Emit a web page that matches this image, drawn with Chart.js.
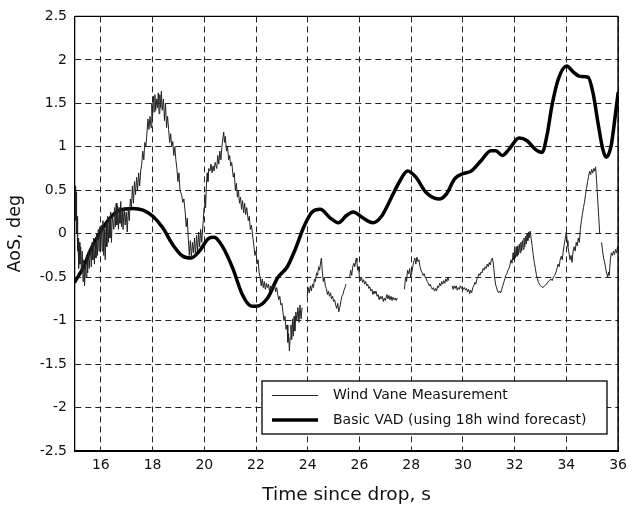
<!DOCTYPE html>
<html>
<head>
<meta charset="utf-8">
<script src="https://cdn.jsdelivr.net/npm/chart.js@4/dist/chart.umd.min.js"></script>
<style>
  html, body { margin: 0; padding: 0; background: #fff; }
  #wrap { width: 633px; height: 507px; }
</style>
</head>
<body>
<div id="wrap"><canvas id="c" width="633" height="507"></canvas></div>
<script>
// Axis ticks
const xTickValues = [16, 18, 20, 22, 24, 26, 28, 30, 32, 34, 36];
const yTickValues = [-2.5, -2, -1.5, -1, -0.5, 0, 0.5, 1, 1.5, 2, 2.5];

// Series labels
const seriesNames = ['Wind Vane Measurement', 'Basic VAD (using 18h wind forecast)'];

// Wind vane record [time s, AoS deg], split where the record drops out
const vaneSeg1 = [
  [15.00,0.15],[15.02,0.55],[15.04,0.48],[15.06,0.0],[15.08,0.2],[15.10,-0.2],[15.12,-0.05],[15.14,-0.4],
  [15.16,-0.1],[15.19,-0.35],[15.22,-0.15],[15.25,-0.45],[15.28,-0.2],[15.31,-0.55],[15.34,-0.3],[15.37,-0.6],
  [15.40,-0.35],[15.43,-0.5],[15.46,-0.25],[15.49,-0.45],[15.52,-0.2],[15.55,-0.4],[15.60,-0.15],[15.63,-0.38],
  [15.66,-0.1],[15.69,-0.3],[15.72,-0.05],[15.75,-0.35],[15.78,-0.1],[15.81,-0.28],[15.84,0.0],[15.87,-0.25],
  [15.90,0.05],[15.93,-0.2],[15.96,0.08],[15.99,-0.15],[16.02,0.1],[16.05,-0.2],[16.08,0.15],[16.11,-0.25],
  [16.14,0.05],[16.17,-0.3],[16.20,0.12],[16.23,-0.15],[16.26,0.2],[16.29,-0.1],[16.32,0.18],[16.35,-0.05],
  [16.38,0.25],[16.41,-0.1],[16.44,0.2],[16.50,0.05],[16.53,0.3],[16.56,0.08],[16.59,0.35],[16.62,0.1],
  [16.65,0.32],[16.68,0.05],[16.71,0.3],[16.74,0.12],[16.77,0.37],[16.80,0.08],[16.83,0.28],[16.86,0.05],
  [16.90,0.3],[16.94,0.1],[16.98,0.25],[17.02,0.02],[17.06,0.28],[17.10,0.15],[17.14,0.4],[17.18,0.3],
  [17.22,0.55],[17.26,0.35],[17.30,0.6],[17.34,0.45],[17.38,0.65],[17.42,0.5],[17.46,0.7],[17.50,0.55],
  [17.54,0.72],[17.58,0.8],[17.62,0.95],[17.66,0.85],[17.70,1.05],[17.74,1.0],[17.78,1.15],[17.82,1.32],
  [17.86,1.2],[17.90,1.35],[17.94,1.22],[17.97,1.5],[18.00,1.35],[18.03,1.58],[18.06,1.4],[18.09,1.6],
  [18.12,1.42],[18.16,1.55],[18.19,1.45],[18.22,1.62],[18.25,1.38],[18.28,1.6],[18.31,1.45],[18.34,1.64],
  [18.37,1.42],[18.42,1.55],[18.46,1.3],[18.50,1.5],[18.54,1.22],[18.58,1.35],[18.62,1.2],[18.66,1.05],
  [18.70,1.15],[18.74,1.0],[18.78,1.06],[18.82,0.9],[18.86,1.0],[18.90,0.85],[18.94,0.75],[18.98,0.6],
  [19.02,0.7],[19.06,0.5],[19.12,0.45],[19.17,0.36],[19.21,0.4],[19.26,0.25],[19.30,0.08],[19.34,0.18],
  [19.38,-0.05],[19.42,-0.25],[19.46,-0.08],[19.50,-0.28],[19.54,-0.1],[19.58,-0.22],[19.62,-0.05],[19.66,-0.25],
  [19.70,-0.02],[19.74,-0.2],[19.78,0.02],[19.82,-0.15],[19.86,0.05],[19.90,-0.1],[19.96,0.15],[19.99,0.3],
  [20.02,0.45],[20.05,0.3],[20.08,0.55],[20.11,0.7],[20.14,0.6],[20.17,0.75],[20.22,0.72],[20.26,0.8],
  [20.30,0.7],[20.34,0.78],[20.38,0.72],[20.42,0.82],[20.48,0.75],[20.52,0.9],[20.56,0.8],[20.60,0.95],
  [20.64,0.85],[20.68,1.0],[20.72,1.1],[20.75,1.17],[20.78,1.05],[20.81,1.12],[20.86,0.95],[20.90,1.0],
  [20.94,0.85],[20.98,0.9],[21.02,0.78],[21.06,0.82],[21.12,0.65],[21.16,0.7],[21.20,0.5],[21.24,0.58],
  [21.28,0.42],[21.32,0.5],[21.36,0.35],[21.40,0.42],[21.44,0.28],[21.48,0.38],[21.52,0.24],[21.56,0.35],
  [21.60,0.22],[21.64,0.3],[21.70,0.15],[21.74,0.2],[21.78,0.05],[21.82,0.1],[21.88,-0.05],[21.92,-0.15],
  [21.96,-0.25],[22.00,-0.2],[22.04,-0.35],[22.08,-0.3],[22.12,-0.45],[22.16,-0.5],[22.20,-0.6],[22.24,-0.52],
  [22.28,-0.62],[22.32,-0.55],[22.36,-0.64],[22.40,-0.57],[22.44,-0.62],[22.48,-0.58],[22.52,-0.66],[22.56,-0.6],
  [22.60,-0.66],[22.64,-0.58],[22.68,-0.64],[22.72,-0.6],[22.76,-0.67],[22.80,-0.62],[22.84,-0.7],[22.88,-0.76],
  [22.92,-0.72],[22.96,-0.82],[23.00,-0.8],[23.04,-0.9],[23.08,-1.0],[23.12,-0.95],[23.16,-1.1],[23.20,-1.05],
  [23.23,-1.25],[23.26,-1.15],[23.29,-1.35],[23.32,-1.2],[23.35,-1.05],[23.38,-1.22],[23.41,-0.98],[23.44,-1.18],
  [23.47,-0.95],[23.50,-1.12],[23.54,-0.9],[23.58,-1.0],[23.62,-0.85],[23.66,-1.02],[23.70,-0.82],[23.74,-0.98],
  [23.78,-0.85]
];
const vaneSeg2 = [
  [23.98,-0.72],[24.02,-0.62],[24.06,-0.68],[24.10,-0.6],[24.14,-0.66],[24.18,-0.58],[24.22,-0.62],[24.26,-0.52],
  [24.30,-0.55],[24.34,-0.45],[24.38,-0.48],[24.42,-0.38],[24.46,-0.42],[24.50,-0.32],[24.53,-0.28],[24.56,-0.42],
  [24.60,-0.55],[24.64,-0.5],[24.68,-0.6],[24.72,-0.63],[24.76,-0.7],[24.80,-0.66],[24.84,-0.72],[24.88,-0.68],
  [24.92,-0.75],[24.96,-0.72],[25.00,-0.78],[25.04,-0.76],[25.08,-0.82],[25.12,-0.86],[25.16,-0.8],[25.20,-0.9],
  [25.24,-0.85],[25.28,-0.78],[25.32,-0.72],[25.36,-0.7],[25.40,-0.65],[25.44,-0.62],[25.48,-0.58]
];
const vaneSeg3 = [
  [25.62,-0.5],[25.66,-0.42],[25.70,-0.48],[25.74,-0.38],[25.78,-0.34],[25.82,-0.38],[25.86,-0.3],[25.88,-0.28],
  [25.90,-0.32],[25.93,-0.42],[25.96,-0.38],[26.00,-0.5],[26.04,-0.54],[26.08,-0.5],[26.12,-0.56],[26.16,-0.53],
  [26.20,-0.58],[26.24,-0.55],[26.28,-0.6],[26.32,-0.58],[26.36,-0.63],[26.40,-0.61],[26.44,-0.66],[26.48,-0.64],
  [26.52,-0.7],[26.56,-0.66],[26.60,-0.69],[26.64,-0.66],[26.68,-0.72],[26.72,-0.7],[26.76,-0.76],[26.80,-0.72],
  [26.84,-0.75],[26.88,-0.72],[26.92,-0.78],[26.96,-0.74],[27.00,-0.77],[27.06,-0.7],[27.10,-0.75],[27.14,-0.71],
  [27.18,-0.76],[27.22,-0.72],[27.26,-0.77],[27.30,-0.73],[27.34,-0.76],[27.38,-0.74],[27.42,-0.77],[27.46,-0.74]
];
const vaneSeg4 = [
  [27.74,-0.64],[27.78,-0.5],[27.82,-0.55],[27.86,-0.42],[27.90,-0.46],[27.94,-0.4],[27.98,-0.5],[28.02,-0.45],
  [28.06,-0.38],[28.10,-0.32],[28.14,-0.28],[28.18,-0.35],[28.22,-0.27],[28.26,-0.32],[28.30,-0.3],[28.34,-0.38],
  [28.38,-0.42],[28.42,-0.45],[28.46,-0.48],[28.50,-0.46],[28.54,-0.5],[28.58,-0.52],[28.62,-0.55],[28.66,-0.57],
  [28.70,-0.6],[28.74,-0.58],[28.78,-0.62],[28.82,-0.64],[28.86,-0.62],[28.90,-0.66],[28.94,-0.63],[28.98,-0.66],
  [29.02,-0.6],[29.06,-0.62],[29.10,-0.57],[29.14,-0.6],[29.18,-0.55],[29.22,-0.58],[29.26,-0.54],[29.30,-0.57],
  [29.34,-0.52],[29.38,-0.55],[29.42,-0.5],[29.46,-0.54]
];
const vaneSeg5 = [
  [29.58,-0.6],[29.62,-0.64],[29.66,-0.6],[29.70,-0.63],[29.74,-0.6],[29.78,-0.65],[29.82,-0.62],[29.86,-0.64],
  [29.90,-0.6],[29.94,-0.63],[29.98,-0.61],[30.02,-0.64],[30.06,-0.62],[30.10,-0.65],[30.14,-0.63],[30.18,-0.67],
  [30.22,-0.64],[30.26,-0.69],[30.30,-0.65],[30.34,-0.68],[30.38,-0.62],[30.42,-0.6],[30.46,-0.56],[30.50,-0.58],
  [30.54,-0.52],[30.58,-0.5],[30.62,-0.46],[30.66,-0.48],[30.70,-0.44],[30.74,-0.45],[30.78,-0.4],[30.82,-0.42],
  [30.86,-0.38],[30.90,-0.4],[30.94,-0.35],[30.98,-0.38],[31.02,-0.33],[31.06,-0.36],[31.10,-0.3],[31.14,-0.28],
  [31.18,-0.35],[31.22,-0.48],[31.26,-0.58],[31.30,-0.62],[31.34,-0.66],[31.38,-0.68],[31.42,-0.66],[31.46,-0.68],
  [31.50,-0.64],[31.54,-0.6],[31.58,-0.56],[31.62,-0.52],[31.66,-0.48],[31.70,-0.46],[31.74,-0.42],[31.78,-0.4],
  [31.82,-0.36],[31.86,-0.3],[31.90,-0.34],[31.94,-0.22],[31.97,-0.3],[32.00,-0.18],[32.03,-0.28],[32.06,-0.15],
  [32.09,-0.26],[32.12,-0.14],[32.15,-0.24],[32.18,-0.12],[32.21,-0.22],[32.24,-0.1],[32.27,-0.2],[32.30,-0.08],
  [32.33,-0.18],[32.36,-0.05],[32.39,-0.15],[32.42,-0.03],[32.45,-0.12],[32.48,0.0],[32.51,-0.08],[32.54,0.02],
  [32.57,-0.05],[32.60,0.03],[32.64,-0.06],[32.68,-0.15],[32.72,-0.25],[32.76,-0.33],[32.80,-0.4],[32.84,-0.47],
  [32.88,-0.52],[32.92,-0.56],[32.96,-0.58],[33.00,-0.6],[33.05,-0.61],[33.10,-0.62],[33.15,-0.6],[33.20,-0.59],
  [33.25,-0.57],[33.30,-0.55],[33.35,-0.54],[33.40,-0.52],[33.45,-0.54],[33.50,-0.5],[33.55,-0.48],[33.60,-0.44],
  [33.64,-0.4],[33.68,-0.35],[33.72,-0.38],[33.76,-0.3],[33.80,-0.26],[33.84,-0.3],[33.88,-0.2],[33.92,-0.12],
  [33.96,-0.05],[34.00,0.02],[34.03,-0.08],[34.06,-0.15],[34.10,-0.22],[34.14,-0.3],[34.18,-0.25],[34.22,-0.33],
  [34.26,-0.2],[34.30,-0.15],[34.34,-0.2],[34.38,-0.1],[34.42,-0.14],[34.46,-0.05],[34.50,-0.1],[34.54,0.05],
  [34.58,0.15],[34.62,0.22],[34.66,0.3],[34.70,0.36],[34.74,0.45],[34.78,0.52],[34.82,0.6],[34.86,0.66],
  [34.90,0.72],[34.94,0.68],[34.98,0.74],[35.02,0.7],[35.06,0.75],[35.10,0.72],[35.13,0.77],[35.17,0.6],
  [35.21,0.4],[35.25,0.2],[35.29,0.0]
];
const vaneSeg6 = [
  [35.36,-0.1],[35.40,-0.2],[35.44,-0.28],[35.48,-0.33],[35.52,-0.4],[35.56,-0.46],[35.60,-0.5],[35.63,-0.44],
  [35.66,-0.48],[35.70,-0.3],[35.74,-0.22],[35.78,-0.25],[35.82,-0.2],[35.86,-0.24],[35.90,-0.18],[35.94,-0.22],
  [35.98,-0.15],[36.00,-0.18]
];

// Basic VAD estimate (smooth curve)
const vadTime = [15.0,15.32,15.58,16.0,16.35,16.73,17.24,17.63,18.01,18.4,18.78,19.17,19.49,19.81,20.19,20.38,
  20.7,21.09,21.47,21.79,22.0,22.45,22.83,23.21,23.53,23.85,24.17,24.48,24.87,25.18,25.5,25.76,26.14,26.52,
  26.84,27.16,27.54,27.86,28.18,28.56,29.07,29.36,29.68,30.0,30.32,30.7,31.08,31.27,31.53,31.78,32.17,32.48,
  32.8,33.06,33.25,33.44,33.69,34.01,34.27,34.52,34.84,35.03,35.22,35.41,35.54,35.73,35.92,36.0];
const vadAoS = [-0.55,-0.39,-0.2,0.03,0.18,0.27,0.29,0.27,0.2,0.065,-0.126,-0.26,-0.28,-0.2,-0.05,-0.04,
  -0.145,-0.39,-0.7,-0.83,-0.836,-0.74,-0.51,-0.38,-0.17,0.08,0.25,0.28,0.18,0.126,0.21,0.25,0.18,0.126,
  0.195,0.37,0.595,0.72,0.65,0.48,0.4,0.456,0.63,0.69,0.72,0.84,0.955,0.955,0.9,0.97,1.1,1.07,
  0.97,0.935,1.13,1.47,1.78,1.93,1.86,1.81,1.8,1.62,1.28,0.97,0.88,1.01,1.43,1.62];

// Join vane segments with gaps between them
const vanePoints = [];
[vaneSeg1, vaneSeg2, vaneSeg3, vaneSeg4, vaneSeg5, vaneSeg6].forEach((seg, i) => {
  if (i > 0) vanePoints.push({ x: (seg[0][0] + vanePoints[vanePoints.length - 1].x) / 2, y: null });
  seg.forEach(([t, v]) => vanePoints.push({ x: t, y: v }));
});
const vadPoints = vadTime.map((t, i) => ({ x: t, y: vadAoS[i] }));

const FONT = '"DejaVu Sans", "Liberation Sans", sans-serif';

// Boxed legend in the lower right of the plot area
const boxLegend = {
  id: 'boxLegend',
  afterDraw(chart, args, opts) {
    const ctx = chart.ctx;
    const b = opts.box;
    ctx.save();
    ctx.fillStyle = '#fff';
    ctx.fillRect(b.left, b.top, b.right - b.left, b.bottom - b.top);
    ctx.strokeStyle = '#000';
    ctx.lineWidth = 1.3;
    ctx.strokeRect(b.left, b.top, b.right - b.left, b.bottom - b.top);
    ctx.font = '14px ' + FONT;
    ctx.textBaseline = 'middle';
    chart.data.datasets.forEach((ds, i) => {
      const y = opts.rows[i];
      ctx.beginPath();
      ctx.lineWidth = ds.borderWidth;
      ctx.strokeStyle = ds.borderColor;
      ctx.moveTo(opts.lineFrom, y);
      ctx.lineTo(opts.lineTo, y);
      ctx.stroke();
      ctx.fillStyle = '#111';
      ctx.fillText(ds.label, opts.textX, y);
    });
    ctx.restore();
  }
};

// Top and right edges of the axes box
const axesFrame = {
  id: 'axesFrame',
  afterDatasetsDraw(chart) {
    const { ctx, chartArea: a } = chart;
    ctx.save();
    ctx.strokeStyle = '#000';
    ctx.lineWidth = 1.3;
    ctx.beginPath();
    ctx.moveTo(a.left, a.top);
    ctx.lineTo(a.right, a.top);
    ctx.stroke();
    ctx.lineWidth = 1.5;
    ctx.beginPath();
    ctx.moveTo(a.right, a.top);
    ctx.lineTo(a.right, a.bottom);
    ctx.stroke();
    ctx.restore();
  }
};

new Chart(document.getElementById('c'), {
  type: 'line',
  data: {
    datasets: [
      {
        label: seriesNames[0],
        data: vanePoints,
        borderColor: '#222',
        borderWidth: 1,
        pointRadius: 0,
        tension: 0,
        spanGaps: false
      },
      {
        label: seriesNames[1],
        data: vadPoints,
        borderColor: '#000',
        borderWidth: 3.5,
        pointRadius: 0,
        cubicInterpolationMode: 'monotone',
        borderJoinStyle: 'round',
        borderCapStyle: 'round'
      }
    ]
  },
  options: {
    responsive: false,
    animation: false,
    devicePixelRatio: 1,
    layout: { padding: { left: 0, right: 11.5, top: 14, bottom: 0 } },
    plugins: {
      legend: { display: false },
      tooltip: { enabled: false },
      boxLegend: {
        box: { left: 262, top: 381, right: 607, bottom: 434 },
        rows: [395.5, 420],
        lineFrom: 272,
        lineTo: 318,
        textX: 333
      }
    },
    scales: {
      x: {
        type: 'linear',
        min: 15,
        max: 36,
        afterBuildTicks: s => { s.ticks = xTickValues.map(v => ({ value: v })); },
        afterFit: s => { s.height = 56; },
        ticks: {
          autoSkip: false,
          maxRotation: 0,
          padding: 6,
          color: '#111',
          font: { family: FONT, size: 14 },
          callback: v => String(v)
        },
        grid: { color: '#222', lineWidth: 1, drawTicks: false },
        border: { display: true, color: '#000', width: 2, dash: [6, 4] },
        title: {
          display: true,
          text: 'Time since drop, s',
          color: '#111',
          font: { family: FONT, size: 18.5 },
          padding: { top: 0, bottom: 1 }
        }
      },
      y: {
        type: 'linear',
        min: -2.5,
        max: 2.5,
        afterBuildTicks: s => { s.ticks = yTickValues.map(v => ({ value: v })); },
        afterFit: s => { s.width = 75; },
        ticks: {
          autoSkip: false,
          padding: 8,
          color: '#111',
          font: { family: FONT, size: 14 },
          callback: v => String(v)
        },
        grid: { color: '#222', lineWidth: 1, drawTicks: false },
        border: { display: true, color: '#000', width: 1.3, dash: [6, 4] },
        title: {
          display: true,
          text: 'AoS, deg',
          color: '#111',
          font: { family: FONT, size: 17.5 },
          padding: { top: 4.5, bottom: 0 }
        }
      }
    }
  },
  plugins: [boxLegend, axesFrame]
});
</script>
</body>
</html>
